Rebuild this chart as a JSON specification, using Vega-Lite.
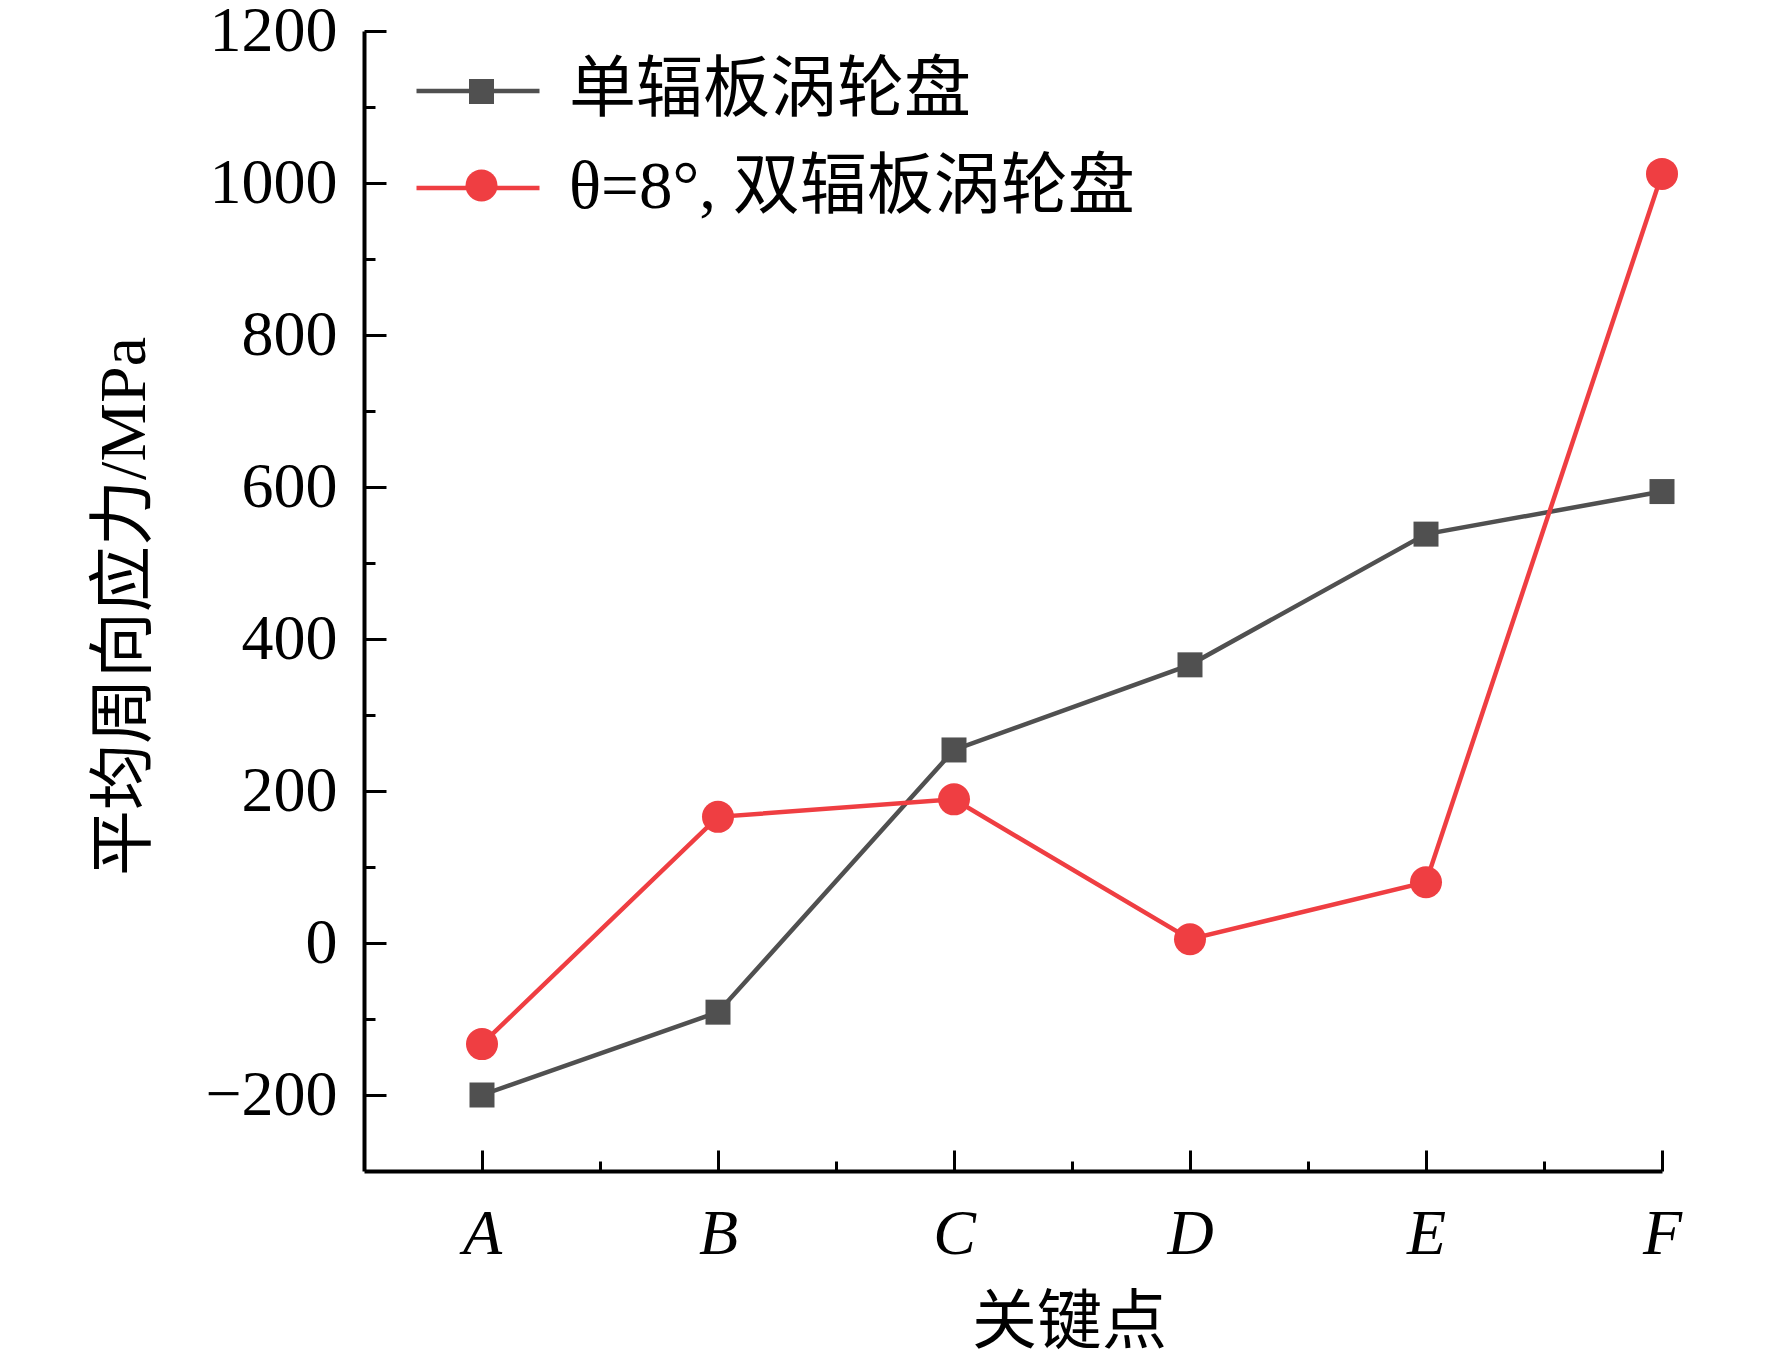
{
  "$schema": "https://vega.github.io/schema/vega-lite/v6.json",
  "width": 1298,
  "height": 1140,
  "autosize": "none",
  "padding": {"left": 364, "top": 31, "right": 110, "bottom": 192},
  "background": "white",
  "data": {
    "values": [
      {"point": 1, "series": "单辐板涡轮盘", "stress": -200},
      {"point": 2, "series": "单辐板涡轮盘", "stress": -91},
      {"point": 3, "series": "单辐板涡轮盘", "stress": 254},
      {"point": 4, "series": "单辐板涡轮盘", "stress": 366},
      {"point": 5, "series": "单辐板涡轮盘", "stress": 538},
      {"point": 6, "series": "单辐板涡轮盘", "stress": 594},
      {"point": 1, "series": "θ=8°, 双辐板涡轮盘", "stress": -133},
      {"point": 2, "series": "θ=8°, 双辐板涡轮盘", "stress": 166},
      {"point": 3, "series": "θ=8°, 双辐板涡轮盘", "stress": 189},
      {"point": 4, "series": "θ=8°, 双辐板涡轮盘", "stress": 5},
      {"point": 5, "series": "θ=8°, 双辐板涡轮盘", "stress": 80},
      {"point": 6, "series": "θ=8°, 双辐板涡轮盘", "stress": 1012}
    ]
  },
  "encoding": {
    "x": {
      "field": "point",
      "type": "quantitative",
      "scale": {"domain": [0.5, 6], "nice": false, "zero": false},
      "axis": {
        "title": "关键点",
        "values": [1, 1.5, 2, 2.5, 3, 3.5, 4, 4.5, 5, 5.5, 6],
        "labelExpr": "datum.value % 1 === 0 ? ['A','B','C','D','E','F'][datum.value - 1] : ''",
        "labelFontStyle": "italic",
        "labelFlush": false,
        "labelPadding": 52,
        "labelBaseline": "top",
        "tickSize": {"condition": {"test": "datum.value % 1 !== 0", "value": -10}, "value": -21},
        "titleFontSize": 65,
        "titleX": 705,
        "titleY": 151,
        "titleBaseline": "middle",
        "titleAlign": "center"
      }
    },
    "y": {
      "field": "stress",
      "type": "quantitative",
      "scale": {"domain": [-300, 1200], "nice": false, "zero": false},
      "axis": {
        "title": "平均周向应力/MPa",
        "values": [-200, -100, 0, 100, 200, 300, 400, 500, 600, 700, 800, 900, 1000, 1100, 1200],
        "labelExpr": "datum.value % 200 === 0 ? replace(format(datum.value, 'd'), '-', '−') : ''",
        "labelPadding": 49,
        "labelBaseline": "middle",
        "tickSize": {"condition": {"test": "datum.value % 200 !== 0", "value": -11}, "value": -22},
        "titleFontSize": 66,
        "titleX": -240,
        "titleY": 575,
        "titleAngle": -90,
        "titleBaseline": "middle",
        "titleAlign": "center"
      }
    }
  },
  "layer": [
    {
      "mark": {"type": "line", "strokeWidth": 4.5},
      "encoding": {
        "stroke": {
          "field": "series",
          "type": "nominal",
          "scale": {
            "domain": ["单辐板涡轮盘", "θ=8°, 双辐板涡轮盘"],
            "range": ["#505050", "#ef3e42"]
          },
          "legend": {
            "orient": "none",
            "legendX": 50,
            "legendY": -4,
            "title": null,
            "padding": 0,
            "symbolType": "stroke",
            "symbolSize": 15129,
            "symbolStrokeWidth": 4.5,
            "labelOffset": 27,
            "rowPadding": -34,
            "labelFontSize": 67,
            "labelLimit": 0
          }
        }
      }
    },
    {
      "mark": {"type": "point", "filled": true, "opacity": 1, "strokeWidth": 0},
      "encoding": {
        "fill": {
          "field": "series",
          "type": "nominal",
          "scale": {
            "domain": ["单辐板涡轮盘", "θ=8°, 双辐板涡轮盘"],
            "range": ["#505050", "#ef3e42"]
          },
          "legend": {
            "orient": "top-left",
            "offset": 27,
            "title": null,
            "padding": 0,
            "symbolOffset": 57,
            "symbolSize": 0,
            "symbolStrokeWidth": 0,
            "labelExpr": "''",
            "rowPadding": 26,
            "labelFontSize": 67
          }
        },
        "shape": {
          "field": "series",
          "type": "nominal",
          "scale": {"domain": ["单辐板涡轮盘", "θ=8°, 双辐板涡轮盘"], "range": ["square", "circle"]},
          "legend": {
            "orient": "top-left",
            "offset": 27,
            "title": null,
            "padding": 0,
            "symbolOffset": 57,
            "symbolSize": 0,
            "symbolStrokeWidth": 0,
            "labelExpr": "''",
            "rowPadding": 26,
            "labelFontSize": 67
          }
        },
        "size": {
          "field": "series",
          "type": "nominal",
          "scale": {"domain": ["单辐板涡轮盘", "θ=8°, 双辐板涡轮盘"], "range": [625, 1024]},
          "legend": {
            "orient": "top-left",
            "offset": 27,
            "title": null,
            "padding": 0,
            "symbolOffset": 57,
            "symbolStrokeWidth": 0,
            "labelExpr": "''",
            "rowPadding": 26,
            "labelFontSize": 67
          }
        }
      }
    }
  ],
  "config": {
    "font": "Liberation Serif, Noto Sans CJK SC",
    "view": {"stroke": null},
    "axis": {
      "grid": false,
      "domainColor": "black",
      "domainWidth": 4,
      "tickColor": "black",
      "tickWidth": 3,
      "labelFont": "Liberation Serif",
      "labelFontSize": 64,
      "labelColor": "black",
      "titleFont": "Liberation Serif, Noto Sans CJK SC",
      "titleFontSize": 63,
      "titleFontWeight": "normal",
      "titleColor": "black"
    },
    "legend": {
      "labelFont": "Liberation Serif, Noto Sans CJK SC",
      "labelColor": "black"
    }
  }
}
